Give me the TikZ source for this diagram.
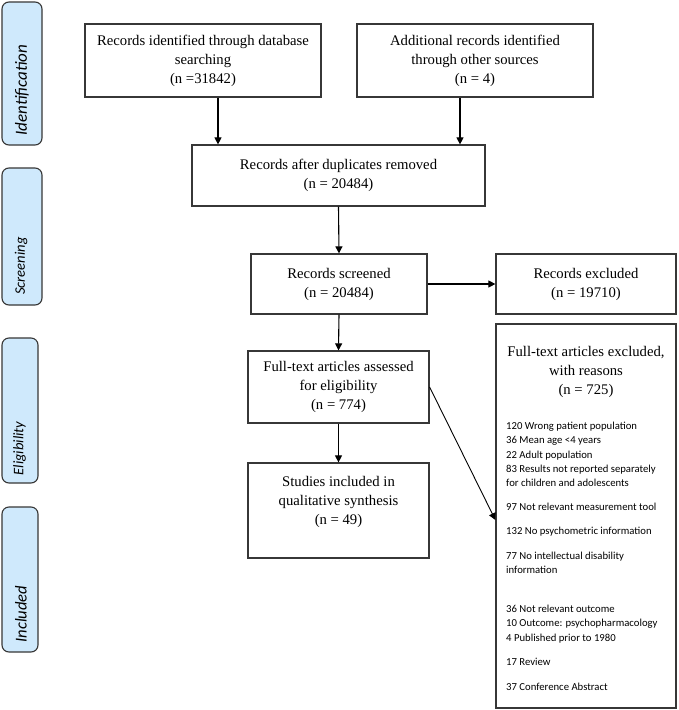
\documentclass[tikz,border=0pt]{standalone}
\usepackage{fontspec}
\setmainfont{Liberation Serif}
\newfontfamily\calib{Carlito}
\usetikzlibrary{arrows.meta}
\definecolor{sidefill}{RGB}{207,233,252}
\definecolor{linec}{RGB}{55,55,55}
\begin{document}
\begin{tikzpicture}[x=1pt,y=-1pt,
 box/.style={draw=linec, line width=1.2pt, rectangle, inner sep=0pt, align=center, font=\fontsize{14.7}{19}\selectfont},
 txt/.style={inner sep=0pt, align=center, font=\fontsize{14.7}{19}\selectfont},
 side/.style={draw=linec, line width=1.1pt, fill=sidefill, rounded corners=7pt, inner sep=0pt},
 sidelabel/.style={rotate=90, inner sep=0pt, text=black},
 arr/.style={draw=black, line width=1.1pt, -{Triangle[length=7pt,width=7pt]}},
 ]
\useasboundingbox[fill=white] (0,0) rectangle (678,710);

% side phase boxes
\node[side, minimum width=40pt, minimum height=143pt] (s1) at (22,73.5) {};
\node[side, minimum width=40pt, minimum height=137pt] (s2) at (22,236.5) {};
\node[side, minimum width=36pt, minimum height=145pt] (s3) at (20,410.5) {};
\node[side, minimum width=36pt, minimum height=145pt] (s4) at (20,579.5) {};
\node[sidelabel, font=\calib\itshape\fontsize{17}{17}\selectfont] (l1) at (22,90) {Identification};
\node[sidelabel, font=\calib\itshape\fontsize{14.6}{15}\selectfont] (l2) at (21,266) {Screening};
\node[sidelabel, font=\calib\itshape\fontsize{14.6}{15}\selectfont] (l3) at (19.5,448.5) {Eligibility};
\node[sidelabel, font=\calib\itshape\fontsize{16.6}{17}\selectfont] (l4) at (21,614) {Included};

% main boxes
\node[box, minimum width=236pt, minimum height=73pt] (b1) at (203,60.5) {Records identified through database\\searching\\(n =31842)};
\node[box, minimum width=236pt, minimum height=73pt] (b2) at (475,60.5) {Additional records identified\\through other sources\\(n = 4)};
\node[box, minimum width=293pt, minimum height=61pt] (b3) at (338.5,175.5) {Records after duplicates removed\\(n = 20484)};
\node[box, minimum width=176pt, minimum height=60pt] (b4) at (339,284) {Records screened\\(n = 20484)};
\node[box, minimum width=180pt, minimum height=60pt] (b5) at (586,284) {Records excluded\\(n = 19710)};
\node[box, minimum width=181pt, minimum height=72pt] (b6) at (338.5,387) {Full-text articles assessed\\for eligibility\\(n = 774)};
\node[box, minimum width=181pt, minimum height=95pt] (b7) at (338.5,510.5) {};
\node[txt] (t7) at (338.5,502) {Studies included in\\qualitative synthesis\\(n = 49)};
\node[box, minimum width=180pt, minimum height=384pt] (b8) at (586,516) {};
\node[txt] (t8) at (586,371.5) {Full-text articles excluded,\\with reasons\\(n = 725)};
\node[inner sep=0pt, anchor=north west, align=left, font=\calib\fontsize{10.7}{14.2}\selectfont] (r8) at (506,422) {%
120 Wrong patient population\\
36 Mean age <4 years\\
22 Adult population\\
83 Results not reported separately\\
for children and adolescents\\[10pt]
97 Not relevant measurement tool\\[10pt]
132 No psychometric information\\[10.5pt]
77 No intellectual disability\\
information\\[24.8pt]
36 Not relevant outcome\\
10 Outcome: psychopharmacology\\
4 Published prior to 1980\\[10pt]
17 Review\\[10.8pt]
37 Conference Abstract};

% connectors
\draw[arr] ([xshift=15pt]b1.south) -- ([xshift=15pt]b1.south |- b3.north);
\draw[arr] ([xshift=-15pt]b2.south) -- ([xshift=-15pt]b2.south |- b3.north);
\draw[arr] (b3.south) -- (b4.north);
\draw[arr] (b4.east) -- (b5.west);
\draw[arr] (b4.south) -- (b6.north);
\draw[arr] (b6.south) -- (b7.north);
\draw[arr, line width=0.9pt] (b6.east) -- ([yshift=-4pt]b8.west);
\end{tikzpicture}
\end{document}
